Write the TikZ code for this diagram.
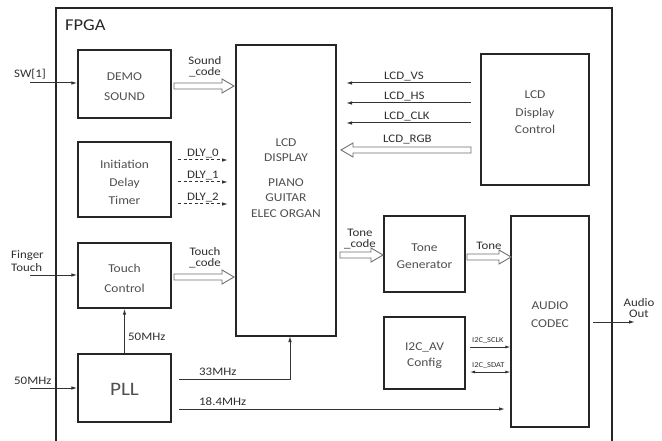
\documentclass[tikz,border=0pt]{standalone}
\usepackage{fontspec}
\setmainfont{Carlito}[FakeStretch=1.12]
\usetikzlibrary{arrows.meta,calc}
\definecolor{boxtext}{HTML}{505050}
\definecolor{lbl}{HTML}{303030}
\definecolor{hol}{HTML}{707070}
\tikzset{
  blk/.style={draw=black!85, line width=1.2pt, inner sep=0pt},
  btxt/.style={text=boxtext, align=center, inner sep=0pt, font=\fontsize{12}{18}\selectfont},
  lab/.style={text=lbl, align=center, inner sep=0pt, font=\fontsize{11.5}{11.5}\selectfont},
  tiny/.style={text=lbl, inner sep=0pt, font=\fontsize{7.5}{8}\selectfont},
  sig/.style={draw=black!80, line width=1pt, -{Latex[length=6pt,width=3.5pt]}},
  dsig/.style={sig, dashed, dash pattern=on 3pt off 2.5pt},
  hollow/.style={draw=hol, line width=0.9pt, fill=white, line join=miter}
}
% hollow block arrow from #1 to #2 (horizontal)
\newcommand{\hollowarr}[2]{%
  \draw[hollow] let \p1=(#1), \p2=(#2), \n1={12*sign(\x2-\x1)} in
    (\x1,\y1+3) -- (\x2-\n1,\y1+3) -- (\x2-\n1,\y1+7) -- (\x2,\y1) --
    (\x2-\n1,\y1-7) -- (\x2-\n1,\y1-3) -- (\x1,\y1-3) -- cycle;}
\begin{document}
\begin{tikzpicture}[x=1pt,y=-1pt]
\useasboundingbox[fill=white] (0,0) rectangle (662,441);
% FPGA frame
\draw[line width=1.4pt, black!85] (56,448) -- (56,8) -- (612,8) -- (612,448);
\node[anchor=west, text=black!85, inner sep=0pt, font=\fontsize{16.5}{18}\selectfont] (fpga) at (65,25) {FPGA};

% blocks
\node[blk, minimum width=93pt, minimum height=68pt] (demo) at (124.5,84) {};
\node[btxt, font=\fontsize{12}{20}\selectfont] (demot) at (124.5,87) {DEMO\\SOUND};
\node[blk, minimum width=93pt, minimum height=75pt] (init) at (124.5,179.5) {};
\node[btxt] (initt) at (124.5,182) {Initiation\\Delay\\Timer};
\node[blk, minimum width=93pt, minimum height=65pt] (touch) at (124.5,275.5) {};
\node[btxt, font=\fontsize{12}{20}\selectfont] (toucht) at (124.5,278) {Touch\\Control};
\node[blk, minimum width=93pt, minimum height=68pt] (pll) at (124.5,388) {};
\node[btxt, font=\fontsize{19}{20}\selectfont] (pllt) at (124.5,389) {PLL};
\node[blk, minimum width=100pt, minimum height=291pt] (lcd) at (286,190.5) {};
\node[btxt, font=\fontsize{12}{15.5}\selectfont] (lcdtxt) at (286,178) {LCD\\DISPLAY\\[9pt]PIANO\\GUITAR\\ELEC ORGAN};
\node[blk, minimum width=108pt, minimum height=131pt] (lcdc) at (535,119.5) {};
\node[btxt, font=\fontsize{12}{17.5}\selectfont] (lcdct) at (535,112.5) {LCD\\Display\\Control};
\node[blk, minimum width=81pt, minimum height=76pt] (tone) at (424.5,254) {};
\node[btxt, font=\fontsize{12}{17}\selectfont] (tonet) at (424.5,256.5) {Tone\\Generator};
\node[blk, minimum width=81pt, minimum height=72pt] (i2c) at (424.5,353) {};
\node[btxt, font=\fontsize{12}{16}\selectfont] (i2ct) at (424.5,356) {I2C\_AV\\Config};
\node[blk, minimum width=78pt, minimum height=211pt] (codec) at (550,321.5) {};
\node[btxt, font=\fontsize{12}{18}\selectfont] (codect) at (550,315) {AUDIO\\CODEC};

% inputs
\coordinate (swin) at (30,83);
\coordinate (ftin) at (30,275);
\coordinate (clkin) at (30,388);
\node[lab, anchor=south west] (swl) at (14,79) {SW[1]};
\node[lab, anchor=south west, align=left, font=\fontsize{11.5}{13}\selectfont] (ftl) at (11,272) {Finger\\Touch};
\node[lab, anchor=south west] (clkl) at (14,385) {50MHz};
\draw[sig] (swin) -- (swin -| demo.west);
\draw[sig] (ftin) -- (ftin -| touch.west);
\draw[sig] (clkin) -- (clkin -| pll.west);

% hollow arrows
\coordinate (sc1) at (174,86); \coordinate (sc2) at (234,86);
\hollowarr{sc1}{sc2}
\node[lab] (scl) at (205,67) {Sound\\\_code};
\coordinate (tc1) at (174,277); \coordinate (tc2) at (234,277);
\hollowarr{tc1}{tc2}
\node[lab] (tcl) at (205,258) {Touch\\\_code};
\coordinate (rgb1) at (471,150); \coordinate (rgb2) at (341,150);
\hollowarr{rgb1}{rgb2}
\node[lab, anchor=south west] (rgbl) at (383,144) {LCD\_RGB};
\coordinate (tn1) at (340,255); \coordinate (tn2) at (383,255);
\hollowarr{tn1}{tn2}
\node[lab] (tnl) at (360,239) {Tone\\\_code};
\coordinate (to1) at (467,257); \coordinate (to2) at (511,257);
\hollowarr{to1}{to2}
\node[lab, anchor=south] (tol) at (489,250) {Tone};

% DLY dashed arrows
\foreach \i/\y in {0/160,1/182,2/204}{
  \coordinate (d\i a) at (178,\y); \coordinate (d\i b) at (228,\y);
  \draw[dsig] (d\i a) -- (d\i b);
  \node[lab, anchor=south] (dl\i) at (203,\y-2) {DLY\_\i};
}

% LCD control signals
\foreach \n/\y in {VS/83,HS/103,CLK/123}{
  \coordinate (l\n a) at (471,\y); \coordinate (l\n b) at (346,\y);
  \draw[sig] (l\n a) -- (l\n b);
  \node[lab, anchor=south west] (ll\n) at (384,\y-1.5) {LCD\_\n};
}

% clocks
\draw[sig] (pll.north) -- (touch.south);
\node[lab, anchor=west] (c50) at (128,337) {50MHz};
\coordinate (c33a) at (179,379);
\draw[sig] (c33a) -| (290,336);
\node[lab, anchor=south west] (c33) at (199,376) {33MHz};
\coordinate (c18a) at (179,409);
\draw[sig] (c18a) -- (505,409);
\node[lab, anchor=south west] (c18) at (199,406) {18.4MHz};

% I2C
\coordinate (sclk) at (470,347); \coordinate (sdat) at (470,372);
\draw[sig, line width=0.8pt, -{Latex[length=5pt,width=3pt]}] (sclk) -- (sclk -| codec.west);
\draw[sig, line width=0.8pt, {Latex[length=5pt,width=3pt]}-{Latex[length=5pt,width=3pt]}] (sdat) -- (sdat -| codec.west);
\node[tiny, anchor=south west] (sclkl) at (472,344) {I2C\_SCLK};
\node[tiny, anchor=south west] (sdatl) at (472,369) {I2C\_SDAT};

% audio out
\coordinate (aout) at (635,322);
\draw[sig] (593,322) -- (aout);
\node[lab, font=\fontsize{11.5}{11}\selectfont] (aol) at (639,308) {Audio\\Out};
\end{tikzpicture}
\end{document}
